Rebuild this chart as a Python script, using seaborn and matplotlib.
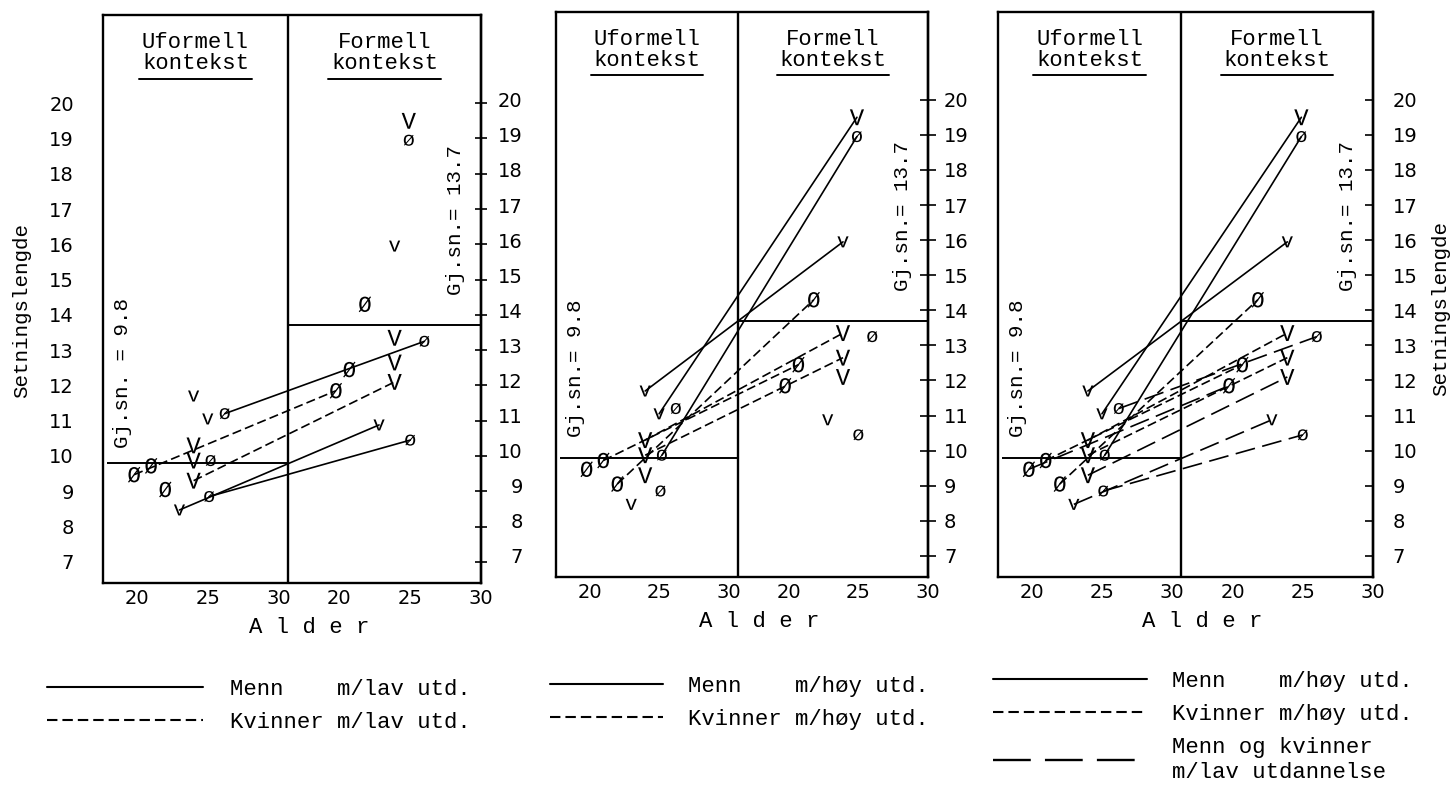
import matplotlib
matplotlib.use("Agg")
import matplotlib.pyplot as plt
import matplotlib.transforms as mtransforms
from matplotlib.lines import Line2D
import pandas as pd
import seaborn as sns

# Setningslengde per informant, uformell (venstre) og formell (hoyre) kontekst
ALDER_UF = [19.8, 21.0, 22.0, 23.0, 24.0, 24.0, 24.0, 24.0, 25.1, 25.2, 25.0, 26.2]
SETN_UF = [9.47, 9.72, 9.05, 8.47, 11.70, 10.30, 9.87, 9.30, 8.85, 9.87, 11.05, 11.20]
ALDER_F = [19.75, 20.7, 21.8, 22.8, 23.9, 23.9, 23.9, 23.9, 25.0, 24.9, 24.9, 26.0]
SETN_F = [11.85, 12.45, 14.30, 10.88, 15.95, 13.35, 12.65, 12.10, 10.45, 18.95, 19.50, 13.25]
SYMB_UF = ["Ø", "Ø", "Ø", "v", "v", "V", "V", "V", "ø", "ø", "v", "ø"]
SYMB_F = ["Ø", "Ø", "Ø", "v", "v", "V", "V", "V", "ø", "ø", "V", "ø"]
KJONN = ["K", "K", "K", "M", "M", "K", "K", "K", "M", "M", "M", "M"]
UTD = ["lav", "høy", "høy", "lav", "høy", "høy", "høy", "lav", "lav", "høy", "høy", "lav"]

SNITT_UF = 9.8
SNITT_F = 13.7

Y_TICKS = list(range(7, 21))
ALDER_TICKS = [20, 25, 30]

# Layout
TYPE_FONT = "Liberation Mono"
FIG_W, FIG_H = 1454, 787
X_MIN, X_MAX = 17.6, 44.3
SKILLE = 30.65       # grense mellom uformell og formell del
FORSKYV = 14.3       # alder i formell del flyttes hit
Y_MIN, Y_MAX = 6.4, 22.5

DASHES = {"hel": "", "stiplet": (5.5, 2.5), "lang": (12, 4.5)}
MARKERS = {s: r"$\mathrm{" + s + "}$" for s in ["V", "v", "Ø", "ø"]}
SIZES = {"stor": 130, "liten": 64}

PANELER = [
    {
        "boks": (103, 15, 481, 583),
        "stil": {"lav": {"M": "hel", "K": "stiplet"}},
        "gj": "Gj.sn. = ",
        "venstre": "label", "hoyre": "kryss",
        "legende": [("hel", "Menn    m/lav utd."), ("stiplet", "Kvinner m/lav utd.")],
        "leg_pos": (47, 679), "leg_len": 7.0, "leg_pad": 1.25,
    },
    {
        "boks": (556, 12, 928, 577),
        "stil": {"høy": {"M": "hel", "K": "stiplet"}},
        "gj": "Gj.sn.= ",
        "venstre": "label", "hoyre": "label_kryss",
        "legende": [("hel", "Menn    m/høy utd."), ("stiplet", "Kvinner m/høy utd.")],
        "leg_pos": (550, 676), "leg_len": 5.1, "leg_pad": 1.12,
    },
    {
        "boks": (998, 12, 1373, 577),
        "stil": {"høy": {"M": "hel", "K": "stiplet"}, "lav": {"M": "lang", "K": "lang"}},
        "gj": "Gj.sn.= ",
        "venstre": "ut", "hoyre": "label_inn",
        "legende": [("hel", "Menn    m/høy utd."), ("stiplet", "Kvinner m/høy utd."),
                    ("lang", "Menn og kvinner\nm/lav utdannelse")],
        "leg_pos": (993, 671), "leg_len": 6.95, "leg_pad": 1.12,
    },
]


def lag_tabell() -> pd.DataFrame:
    """Long format: one row per informant and context."""
    rader = []
    for i in range(len(ALDER_UF)):
        felles = {"id": i, "kjonn": KJONN[i], "utd": UTD[i]}
        rader.append({**felles, "x": ALDER_UF[i], "y": SETN_UF[i], "symb": SYMB_UF[i]})
        rader.append({**felles, "x": ALDER_F[i] + FORSKYV, "y": SETN_F[i], "symb": SYMB_F[i]})
    df = pd.DataFrame(rader)
    df["str"] = ["stor" if s.isupper() else "liten" for s in df["symb"]]
    return df


def tegn_panel(fig, df, panel):
    l, t, r, b = panel["boks"]
    ax = fig.add_axes([l / FIG_W, 1 - b / FIG_H, (r - l) / FIG_W, (b - t) / FIG_H])

    df = df.copy()
    df["stil"] = [panel["stil"].get(u, {}).get(k) for u, k in zip(df["utd"], df["kjonn"])]
    sub = df.dropna(subset=["stil"])
    sns.lineplot(data=sub, x="x", y="y", units="id", estimator=None, style="stil",
                 dashes=DASHES, color="black", linewidth=1.2, sort=False,
                 legend=False, ax=ax)

    # Informantene som skrivemaskintegn
    sns.scatterplot(data=df, x="x", y="y", style="symb", markers=MARKERS,
                    size="str", sizes=SIZES, color="black", linewidth=0,
                    legend=False, zorder=4, ax=ax)

    # Skillelinje og gjennomsnitt
    ax.axvline(SKILLE, color="black", lw=1.7)
    ax.hlines(SNITT_UF, X_MIN + 0.3, SKILLE, color="black", lw=1.4)
    ax.hlines(SNITT_F, SKILLE, X_MAX, color="black", lw=1.4)
    ax.text(19.0, 12.35, f"{panel['gj']}{SNITT_UF}", family=TYPE_FONT, fontsize=15,
            rotation=90, ha="center", va="center")
    ax.text(42.5, 16.7, f"Gj.sn.= {SNITT_F}", family=TYPE_FONT, fontsize=15,
            rotation=90, ha="center", va="center")

    # Overskrifter
    trans = mtransforms.blended_transform_factory(ax.transData, ax.transAxes)
    for navn, x0, x1 in [("Uformell", X_MIN, SKILLE), ("Formell", SKILLE, X_MAX)]:
        xc = (x0 + x1) / 2
        ax.text(xc, 0.952, navn, transform=trans, family=TYPE_FONT, fontsize=16,
                ha="center", va="center")
        ax.text(xc, 0.915, "kontekst", transform=trans, family=TYPE_FONT, fontsize=16,
                ha="center", va="center")
        ax.plot([xc - 4.0, xc + 4.0], [0.888, 0.888], transform=trans, color="black", lw=1.4)

    ax.set_xlim(X_MIN, X_MAX)
    ax.set_ylim(Y_MIN, Y_MAX)
    ax.set_xticks(ALDER_TICKS + [a + FORSKYV for a in ALDER_TICKS])
    ax.set_xticklabels([str(a) for a in ALDER_TICKS] * 2)
    ax.tick_params(axis="x", direction="inout", length=6, width=1.2, pad=1.5, labelsize=14)
    ax.set_xlabel("A l d e r", family=TYPE_FONT, fontsize=16)
    ax.xaxis.set_label_coords(0.545, -0.06)
    ax.set_ylabel("")

    ax.set_yticks(Y_TICKS)
    if panel["venstre"] == "label":
        ax.tick_params(axis="y", direction="out", length=8, width=1.2, pad=13 if l < 200 else 16,
                       labelsize=14)
    else:
        ax.tick_params(axis="y", direction="out", length=9, width=1.2, labelleft=False)

    sec = ax.secondary_yaxis("right")
    sec.set_yticks(Y_TICKS)
    sec.spines["right"].set_linewidth(1.7)
    if panel["hoyre"] == "kryss":
        sec.tick_params(direction="inout", length=8, width=1.2, labelright=False)
    elif panel["hoyre"] == "label_kryss":
        sec.tick_params(direction="inout", length=11, width=1.2, pad=6, labelsize=14)
    else:
        sec.tick_params(direction="in", length=6, width=1.2, pad=14, labelsize=14)

    for sp in ax.spines.values():
        sp.set_linewidth(1.7)
        sp.set_color("black")
        sp.set_visible(True)

    # Tegnforklaring under panelet
    handles = []
    labels = []
    for stil, tekst in panel["legende"]:
        if stil == "hel":
            h = Line2D([], [], color="black", lw=1.5)
        elif stil == "stiplet":
            h = Line2D([], [], color="black", lw=1.5, dashes=(5.0, 2.4))
        else:
            h = Line2D([], [], color="black", lw=1.7, dashes=(16, 6))
        handles.append(h)
        labels.append(tekst)
    x0, y0 = panel["leg_pos"]
    ax.legend(handles, labels, loc="upper left", bbox_to_anchor=(x0 / FIG_W, 1 - y0 / FIG_H),
              bbox_transform=fig.transFigure, frameon=False,
              prop={"family": TYPE_FONT, "size": 16}, handlelength=panel["leg_len"],
              handletextpad=panel["leg_pad"], labelspacing=0.55, borderpad=0, borderaxespad=0)
    return ax


def main():
    sns.set_style("white")
    plt.rcParams["font.family"] = ["DejaVu Sans"]
    plt.rcParams.update({
        "text.color": "black",
        "axes.labelcolor": "black",
        "axes.edgecolor": "black",
        "xtick.color": "black",
        "ytick.color": "black",
        "mathtext.fontset": "custom",
        "mathtext.rm": TYPE_FONT,
        "mathtext.it": TYPE_FONT,
    })

    df = lag_tabell()
    fig = plt.figure(figsize=(FIG_W / 100, FIG_H / 100), dpi=100)
    for panel in PANELER:
        tegn_panel(fig, df, panel)

    fig.text(22 / FIG_W, 1 - 311 / FIG_H, "Setningslengde", family=TYPE_FONT, fontsize=15,
             rotation=90, ha="center", va="center")
    fig.text(1441 / FIG_W, 1 - 309 / FIG_H, "Setningslengde", family=TYPE_FONT, fontsize=15,
             rotation=90, ha="center", va="center")

    fig.savefig("out.png", dpi=100)


if __name__ == "__main__":
    main()
